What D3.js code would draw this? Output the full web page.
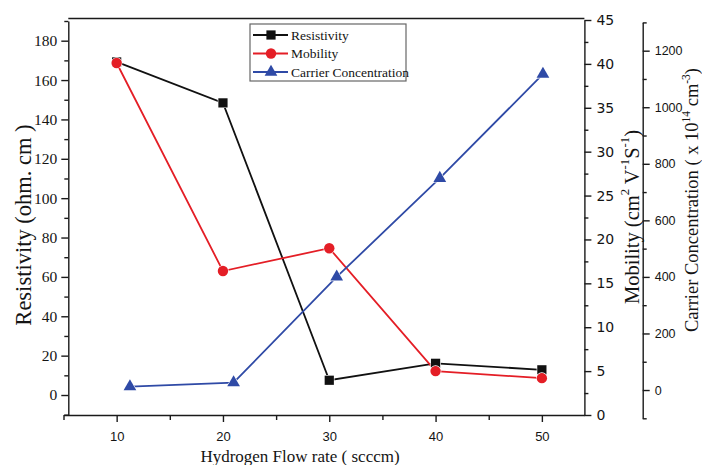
<!DOCTYPE html>
<html>
<head>
<meta charset="utf-8">
<script src="https://cdn.jsdelivr.net/npm/d3@7"></script>
<style>
  html, body { margin: 0; padding: 0; background: #fff; }
  svg { display: block; }
</style>
</head>
<body>
<svg id="chart" width="702" height="465"></svg>
<script>
// ---- data ----
const flowRates = [10, 20, 30, 40, 50];
const resistivity = [169.2, 148.4, 7.5, 16.1, 12.8];
const mobility = [40.1, 16.4, 19.0, 5.0, 4.2];
const carrierFlow = [11.25, 21.0, 30.7, 40.4, 50.1];
const carrier = [12, 26, 400, 749, 1117];

const xMajor = [10, 20, 30, 40, 50];
const xMinor = [5, 15, 25, 35, 45];
const resMajor = [0, 20, 40, 60, 80, 100, 120, 140, 160, 180];
const resMinor = [-10, 10, 30, 50, 70, 90, 110, 130, 150, 170, 190];
const mobMajor = [0, 5, 10, 15, 20, 25, 30, 35, 40, 45];
const mobMinor = [2.5, 7.5, 12.5, 17.5, 22.5, 27.5, 32.5, 37.5, 42.5];
const carMajor = [0, 200, 400, 600, 800, 1000, 1200];
const carMinor = [-100, 100, 300, 500, 700, 900, 1100, 1300];

const legendItems = ["Resistivity", "Mobility", "Carrier Concentration"];

// ---- styles ----
const cBlack = "#111111", cRed = "#e41e26", cBlue = "#2f4aa6";
const ink = "#141414";
const serif = "'Liberation Serif', 'Times New Roman', serif";
const sans = "'Liberation Sans', Arial, sans-serif";
const dsans = "'DejaVu Sans', Verdana, sans-serif";

const svg = d3.select("#chart");

// ---- scales ----
const x = d3.scaleLinear().domain([5, 54]).range([63.5, 584.4]);
const yL = d3.scaleLinear().domain([-10, 190]).range([414.7, 21]);
const yM = d3.scaleLinear().domain([0, 45]).range([415, 20]);
const yC = d3.scaleLinear().domain([-100, 1300]).range([418.3, 22.4]);

const leftX = 68.3, rightX = x(54), carX = 642.7, bottomY = 415;

function styleAxis(g, font, size) {
  g.selectAll("path, line").attr("stroke", "#1a1a1a").attr("stroke-width", 1.4);
  g.selectAll("text").attr("fill", ink).style("font-family", font).style("font-size", size + "px");
}

// top frame line
svg.append("line").attr("x1", leftX).attr("x2", rightX).attr("y1", 18.5).attr("y2", 18.5)
  .attr("stroke", "#1a1a1a").attr("stroke-width", 1.3);

// bottom axis
const gxMin = svg.append("g").attr("transform", `translate(0,${bottomY})`)
  .call(d3.axisBottom(x).tickValues(xMinor).tickSize(5).tickSizeOuter(0).tickFormat(""));
styleAxis(gxMin, sans, 13);
const gx = svg.append("g").attr("transform", `translate(0,${bottomY})`)
  .call(d3.axisBottom(x).tickValues(xMajor).tickSize(7).tickSizeOuter(0).tickPadding(10));
gx.select(".domain").remove();
styleAxis(gx, sans, 13);

// left axis
const gyMin = svg.append("g").attr("transform", `translate(${leftX},0)`)
  .call(d3.axisLeft(yL).tickValues(resMinor).tickSize(4).tickSizeOuter(0).tickFormat(""));
styleAxis(gyMin, serif, 15);
const gy = svg.append("g").attr("transform", `translate(${leftX},0)`)
  .call(d3.axisLeft(yL).tickValues(resMajor).tickSize(7).tickSizeOuter(0).tickPadding(4));
gy.select(".domain").remove();
styleAxis(gy, serif, 15.5);

// mobility axis
const gmMin = svg.append("g").attr("transform", `translate(${rightX},0)`)
  .call(d3.axisRight(yM).tickValues(mobMinor).tickSize(4).tickSizeOuter(0).tickFormat(""));
styleAxis(gmMin, dsans, 13);
const gm = svg.append("g").attr("transform", `translate(${rightX},0)`)
  .call(d3.axisRight(yM).tickValues(mobMajor).tickSize(7).tickSizeOuter(0).tickPadding(5));
gm.select(".domain").remove();
styleAxis(gm, dsans, 14);

// carrier axis
const gcMin = svg.append("g").attr("transform", `translate(${carX},0)`)
  .call(d3.axisRight(yC).tickValues(carMinor).tickSize(4).tickSizeOuter(0).tickFormat(""));
styleAxis(gcMin, sans, 12);
const gc = svg.append("g").attr("transform", `translate(${carX},0)`)
  .call(d3.axisRight(yC).tickValues(carMajor).tickSize(7).tickSizeOuter(0).tickPadding(5)
    .tickFormat(d3.format("d")));
gc.select(".domain").remove();
styleAxis(gc, sans, 12.5);

// ---- axis titles ----
svg.append("text").attr("transform", "translate(23,225) rotate(-90)")
  .attr("text-anchor", "middle").attr("dominant-baseline", "central")
  .style("font-family", serif).style("font-size", "22.5px").attr("fill", ink)
  .text("Resistivity (ohm. cm )");

function richLabel(tx, ty, parts, size) {
  const t = svg.append("text").attr("transform", `translate(${tx},${ty}) rotate(-90)`)
    .attr("text-anchor", "middle").attr("dominant-baseline", "central")
    .style("font-family", serif).style("font-size", size + "px").attr("fill", ink);
  parts.forEach(p => {
    const ts = t.append("tspan").text(p[0]);
    if (p[1]) ts.attr("baseline-shift", "super").style("font-size", (size * 0.62) + "px");
  });
}
richLabel(632, 217, [["Mobility (cm"], ["2", true], [" V"], ["-1", true], ["S"], ["-1", true], [")"]], 20.5);
richLabel(692, 200, [["Carrier Concentration ( x 10"], ["14", true], [" cm"], ["-3", true], [")"]], 18.5);

svg.append("text").attr("x", 300).attr("y", 462).attr("text-anchor", "middle")
  .style("font-family", serif).style("font-size", "17px").attr("fill", ink)
  .text("Hydrogen Flow rate ( scccm)");

// ---- series ----
const resData = flowRates.map((f, i) => [x(f), yL(resistivity[i])]);
const mobData = flowRates.map((f, i) => [x(f), yM(mobility[i])]);
const carData = carrierFlow.map((f, i) => [x(f), yC(carrier[i])]);

const line = d3.line();
const series = [
  { pts: resData, color: cBlack, sym: d3.symbolSquare, size: 85 },
  { pts: mobData, color: cRed, sym: d3.symbolCircle, size: 85 },
  { pts: carData, color: cBlue, sym: d3.symbolTriangle, size: 70 }
];

series.forEach(s => {
  svg.append("path").attr("d", line(s.pts)).attr("fill", "none")
    .attr("stroke", s.color).attr("stroke-width", 1.8);
});
series.forEach(s => {
  svg.append("g").selectAll("path").data(s.pts).join("path")
    .attr("transform", d => `translate(${d[0]},${d[1]})`)
    .attr("d", d3.symbol(s.sym, s.size)())
    .attr("fill", s.color).attr("stroke", "#fff").attr("stroke-width", 1.2)
    .attr("paint-order", "stroke");
});

// ---- legend ----
const lg = svg.append("g");
lg.append("rect").attr("x", 250).attr("y", 24).attr("width", 156).attr("height", 57)
  .attr("fill", "#fff").attr("stroke", "#666").attr("stroke-width", 1.2);
legendItems.forEach((name, i) => {
  const cy = 35 + i * 18.5;
  const s = series[i];
  lg.append("line").attr("x1", 253).attr("x2", 288).attr("y1", cy).attr("y2", cy)
    .attr("stroke", s.color).attr("stroke-width", 1.8);
  lg.append("path").attr("transform", `translate(271,${cy})`)
    .attr("d", d3.symbol(s.sym, s.size)()).attr("fill", s.color);
  lg.append("text").attr("x", 291).attr("y", cy).attr("dominant-baseline", "central")
    .style("font-family", serif).style("font-size", "13.5px").attr("fill", ink).text(name);
});
</script>
</body>
</html>
